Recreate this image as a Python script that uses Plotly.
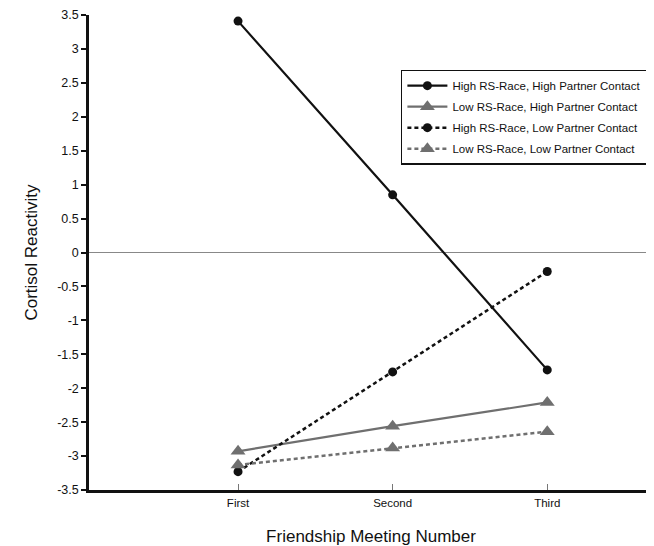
import plotly.graph_objects as go

categories = ["First", "Second", "Third"]
x_pos = [1, 2, 3]

high_rs_high_contact = [3.41, 0.85, -1.73]
low_rs_high_contact = [-2.93, -2.56, -2.21]
high_rs_low_contact = [-3.23, -1.76, -0.28]
low_rs_low_contact = [-3.13, -2.88, -2.64]

series_names = [
    "High RS-Race, High Partner Contact",
    "Low RS-Race, High Partner Contact",
    "High RS-Race, Low Partner Contact",
    "Low RS-Race, Low Partner Contact",
]

y_tickvals = [3.5, 3, 2.5, 2, 1.5, 1, 0.5, 0, -0.5, -1, -1.5, -2, -2.5, -3, -3.5]
y_ticktext = ["3.5", "3", "2.5", "2", "1.5", "1", "0.5", "0", "-0.5", "-1", "-1.5", "-2", "-2.5", "-3", "-3.5"]

BLACK = "#111111"
GRAY = "#6f6f6f"
FONT = "Liberation Sans, Arial, Helvetica, sans-serif"

fig = go.Figure()
fig.add_trace(go.Scatter(
    x=x_pos, y=high_rs_high_contact, name=series_names[0], mode="lines+markers",
    legendgroup="g1",
    line=dict(color=BLACK, width=2.2),
    marker=dict(symbol="circle", size=9, color=BLACK)))
fig.add_trace(go.Scatter(
    x=x_pos, y=low_rs_high_contact, name=series_names[1], mode="lines+markers",
    legendgroup="g2",
    line=dict(color=GRAY, width=2.2),
    marker=dict(symbol="triangle-up", size=13, color=GRAY)))
fig.add_trace(go.Scatter(
    x=x_pos, y=high_rs_low_contact, name=series_names[2], mode="lines+markers",
    legendgroup="g3",
    line=dict(color=BLACK, width=2.5, dash="4px,3px"),
    marker=dict(symbol="circle", size=9, color=BLACK)))
fig.add_trace(go.Scatter(
    x=x_pos, y=low_rs_low_contact, name=series_names[3], mode="lines+markers",
    legendgroup="g4",
    line=dict(color=GRAY, width=2.5, dash="4px,3px"),
    marker=dict(symbol="triangle-up", size=13, color=GRAY)))

# The page body adds an offset, so the figure is sized 646x538.
fig.update_layout(
    width=646, height=538,
    margin=dict(l=81, r=1, t=7, b=56),
    paper_bgcolor="white", plot_bgcolor="white",
    font=dict(family=FONT, color=BLACK),
    showlegend=True,
    legend=dict(
        x=0.553, y=0.885, xanchor="left", yanchor="top",
        bordercolor=BLACK, borderwidth=1.5, bgcolor="white",
        font=dict(size=11.5, family=FONT, color=BLACK),
        tracegroupgap=2, itemwidth=40,
    ),
    xaxis=dict(
        range=[0.036, 3.684], tickmode="array", tickvals=x_pos, ticktext=categories,
        showgrid=False, zeroline=False, automargin=False,
        showline=True, linecolor=BLACK, linewidth=2.5,
        ticks="inside", ticklen=6, tickwidth=1, tickcolor="#777777",
        tickfont=dict(size=11.5, family=FONT),
        title=dict(text="Friendship Meeting Number", font=dict(size=17, family=FONT), standoff=26),
    ),
    yaxis=dict(
        range=[-3.5, 3.5], tickmode="array", tickvals=y_tickvals, ticktext=y_ticktext,
        showgrid=False, zeroline=True, zerolinecolor="#888888", zerolinewidth=1.2,
        showline=True, linecolor=BLACK, linewidth=2.5, automargin=False,
        ticks="outside", ticklen=5, tickwidth=2, tickcolor=BLACK,
        tickfont=dict(size=12.5, family=FONT),
        title=dict(text="Cortisol Reactivity", font=dict(size=17, family=FONT), standoff=16),
    ),
)

fig.write_html("out.html")
